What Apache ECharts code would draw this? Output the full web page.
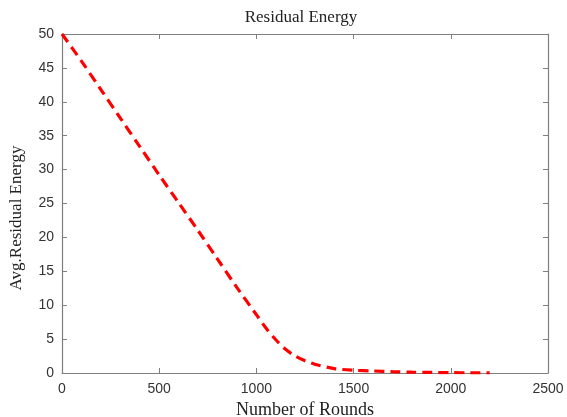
<!DOCTYPE html>
<html>
<head>
<meta charset="utf-8">
<script src="https://cdn.jsdelivr.net/npm/echarts@6/dist/echarts.min.js"></script>
<style>html,body{margin:0;padding:0;background:#fff;}#c{width:567px;height:417px;}</style>
</head>
<body>
<div id="c"></div>
<script>
const rounds = [0,100,200,300,400,500,600,700,800,900,1000,1050,1100,1150,1200,1250,1300,1400,1500,1600,1700,1800,1900,2000,2100,2200];
const energy = [50,46,41.8,37.6,33.4,29.2,25.1,21,16.8,12.6,8.6,6.6,4.9,3.5,2.5,1.8,1.3,0.65,0.4,0.3,0.2,0.12,0.08,0.05,0.03,0.02];
const xTicks = [0,500,1000,1500,2000,2500];
const yTicks = [0,5,10,15,20,25,30,35,40,45,50];
const titleText = 'Residual Energy';
const xName = 'Number of Rounds';
const yName = 'Avg.Residual Energy';

const chart = echarts.init(document.getElementById('c'));
const axisColor = '#7f7f7f';
const axisLine = {show:true, onZero:false, lineStyle:{color:axisColor, width:1.2}};
const tick = {show:true, inside:true, length:5, lineStyle:{color:axisColor}};
const serif = '"Liberation Serif","Times New Roman",serif';
const sans = '"Liberation Sans",Arial,sans-serif';
chart.setOption({
  animation:false,
  backgroundColor:'#fff',
  title:{text:titleText, left:296, top:4, textAlign:'center',
    textStyle:{fontFamily:serif, fontSize:17, fontWeight:'normal', color:'#222'}},
  grid:{left:62, right:19, top:34, bottom:44, containLabel:false, outerBoundsMode:'none'},
  graphic:[{
    type:'text', x:8, y:218, rotation:Math.PI/2,
    style:{text:yName, font:'17px ' + serif, fill:'#222', align:'center', verticalAlign:'top'}
  }],
  xAxis:[{
    type:'value', min:xTicks[0], max:xTicks[xTicks.length-1], interval:500,
    name:xName, nameLocation:'middle', nameGap:26,
    nameTextStyle:{fontFamily:serif, fontSize:18, color:'#222'},
    axisLine:axisLine, axisTick:tick,
    axisLabel:{fontFamily:sans, fontSize:14, color:'#333', margin:9, formatter:v=>String(v)},
    splitLine:{show:false}
  },{
    type:'value', position:'top', min:xTicks[0], max:xTicks[xTicks.length-1], interval:500,
    axisLine:axisLine, axisTick:tick,
    axisLabel:{show:false}, splitLine:{show:false}
  }],
  yAxis:[{
    type:'value', min:yTicks[0], max:yTicks[yTicks.length-1], interval:5,
    axisLine:axisLine, axisTick:tick,
    axisLabel:{fontFamily:sans, fontSize:14, color:'#333', margin:8, formatter:v=>String(v)},
    splitLine:{show:false}
  },{
    type:'value', position:'right', min:yTicks[0], max:yTicks[yTicks.length-1], interval:5,
    axisLine:axisLine, axisTick:tick,
    axisLabel:{show:false}, splitLine:{show:false}
  }],
  series:[{
    type:'line', xAxisIndex:0, yAxisIndex:0,
    data:rounds.map((r,i)=>[r,energy[i]]),
    showSymbol:false, smooth:0.3,
    lineStyle:{color:'#ff0000', width:3.2, type:[10,6]}
  }]
});
</script>
</body>
</html>
